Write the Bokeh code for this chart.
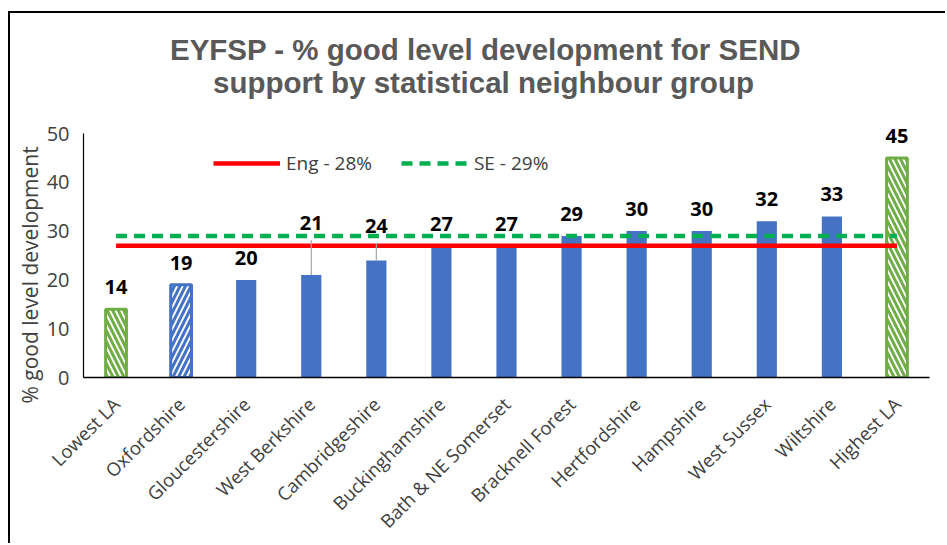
from math import pi
from bokeh.plotting import figure
from bokeh.models import (ColumnDataSource, Range1d, LabelSet, Legend, LegendItem,
                          Title, Label, FixedTicker)
from bokeh.core.properties import value
from bokeh.embed import file_html
from bokeh.resources import INLINE

# ---------------- data ----------------
categories = ["Lowest LA", "Oxfordshire", "Gloucestershire", "West Berkshire",
              "Cambridgeshire", "Buckinghamshire", "Bath & NE Somerset",
              "Bracknell Forest", "Hertfordshire", "Hampshire", "West Sussex",
              "Wiltshire", "Highest LA"]
gld_values = [14, 19, 20, 21, 24, 27, 27, 29, 30, 30, 32, 33, 45]
bar_kind = ["range", "focus", "neighbour", "neighbour", "neighbour", "neighbour",
            "neighbour", "neighbour", "neighbour", "neighbour", "neighbour",
            "neighbour", "range"]
eng_value = 27
se_value = 29
eng_label = "Eng - 28%"
se_label = "SE - 29%"
# data labels moved by hand above the benchmark lines (value units)
moved_labels = {"West Berkshire": 31.6, "Cambridgeshire": 31.0}
y_ticks = [0, 10, 20, 30, 40, 50]
y_axis_max = 50
title_lines = ["EYFSP - % good level development for SEND",
               "support by statistical neighbour group"]
y_title = "% good level development"

BLUE = "#4472C4"
GREEN = "#70AD47"
FONT = "Open Sans"

# layout (pixels)
W, H = 937, 532
BORDER_L, BORDER_R, BORDER_T, BORDER_B = 73, 18, 15, 168
AXIS_PX = 244                       # pixel height of the 0..50 axis
frame_h = H - BORDER_T - BORDER_B
range_top = y_axis_max * frame_h / AXIS_PX   # frame also hosts the title

p = figure(x_range=categories, y_range=Range1d(0, range_top), width=W, height=H,
           output_backend="svg", toolbar_location=None,
           min_border_left=BORDER_L, min_border_right=BORDER_R,
           min_border_top=BORDER_T, min_border_bottom=BORDER_B,
           outline_line_color=None,
           background_fill_color="white", border_fill_color="white")
p.styles = {"border-top": "2px solid #000", "border-left": "2px solid #000",
            "margin-top": "11px", "margin-left": "8px"}
p.title.visible = False

# chart title (two centred lines, positioned from the frame's bottom-left)
for txt, sx, sy in ((title_lines[0], 402, 328), (title_lines[1], 400, 295)):
    p.add_layout(Label(x=sx, y=sy, x_units="screen", y_units="screen", text=txt,
                       text_align="center", text_baseline="alphabetic",
                       text_font="Liberation Sans", text_font_style="bold",
                       text_font_size="29.5px", text_color="#595959"))

# y axis title
yt = Title(text=y_title, align="left", offset=-26, standoff=0,
           text_font=FONT, text_font_size="21px", text_font_style="normal",
           text_color="#404040")
p.add_layout(yt, "left")

# bars
def subset(kind):
    xs = [c for c, k in zip(categories, bar_kind) if k == kind]
    ts = [v for v, k in zip(gld_values, bar_kind) if k == kind]
    return ColumnDataSource(dict(x=xs, top=ts))

p.vbar(x="x", top="top", width=0.31, source=subset("neighbour"),
       fill_color=BLUE, line_color=None)
p.vbar(x="x", top="top", width=0.32, source=subset("focus"),
       fill_color="white", line_color=BLUE, line_width=3,
       hatch_pattern="/", hatch_color=BLUE, hatch_weight=3, hatch_scale=11)
p.vbar(x="x", top="top", width=0.32, source=subset("range"),
       fill_color="white", line_color=GREEN, line_width=3,
       hatch_pattern="\\", hatch_color=GREEN, hatch_weight=3, hatch_scale=11)

# benchmark lines
line_src = ColumnDataSource(dict(x=categories,
                                 eng=[eng_value] * len(categories),
                                 se=[se_value] * len(categories)))
r_eng = p.line(x="x", y="eng", source=line_src, line_color="#FF0000", line_width=4.5)
r_se = p.line(x="x", y="se", source=line_src, line_color="#00B050", line_width=4.5,
              line_dash="11 7")

# leader lines for moved labels
lx = [c for c in categories if c in moved_labels]
ly0 = [v for c, v in zip(categories, gld_values) if c in moved_labels]
ly1 = [moved_labels[c] - 3.4 for c in lx]
p.segment(x0=lx, y0=ly0, x1=lx, y1=ly1, line_color="#A6A6A6", line_width=1.2)

# data labels
lab_y = [moved_labels.get(c, v) for c, v in zip(categories, gld_values)]
lab_off = [0 if c in moved_labels else 22 for c in categories]
lab_src = ColumnDataSource(dict(x=categories, y=lab_y, off=lab_off,
                                text=[str(v) for v in gld_values]))
p.add_layout(LabelSet(x="x", y="y", text="text", y_offset="off", source=lab_src,
                      text_align="center", text_baseline="middle",
                      text_font=value(FONT), text_font_style="bold",
                      text_font_size="20px", text_color="#000000"))

# legend
legend = Legend(items=[LegendItem(label=eng_label, renderers=[r_eng]),
                       LegendItem(label=se_label, renderers=[r_se])],
                orientation="horizontal", location=(130, 201),
                glyph_width=67, glyph_height=20, label_standoff=6, spacing=29,
                padding=0, margin=0, border_line_color=None,
                background_fill_alpha=0, label_text_font=FONT,
                label_text_font_size="19px", label_text_color="#404040")
p.add_layout(legend)

# axes
p.xgrid.visible = False
p.ygrid.visible = False
p.xaxis.major_label_orientation = pi / 4
p.xaxis.major_label_text_font = FONT
p.xaxis.major_label_text_font_size = "18.5px"
p.xaxis.major_label_text_color = "#404040"
p.xaxis.major_label_standoff = 23
p.xaxis.major_tick_line_color = None
p.xaxis.major_tick_out = 0
p.xaxis.minor_tick_line_color = None
p.xaxis.axis_line_color = "#000000"
p.xaxis.axis_line_width = 1.5

p.yaxis.ticker = FixedTicker(ticks=y_ticks)
p.yaxis.bounds = (0, y_axis_max)
p.yaxis.major_label_text_font = FONT
p.yaxis.major_label_text_font_size = "20px"
p.yaxis.major_label_text_color = "#404040"
p.yaxis.major_label_standoff = 14
p.yaxis.major_tick_line_color = None
p.yaxis.major_tick_out = 0
p.yaxis.minor_tick_line_color = None
p.yaxis.axis_line_color = "#000000"
p.yaxis.axis_line_width = 1.2

open("out.html", "w").write(file_html(p, INLINE))
